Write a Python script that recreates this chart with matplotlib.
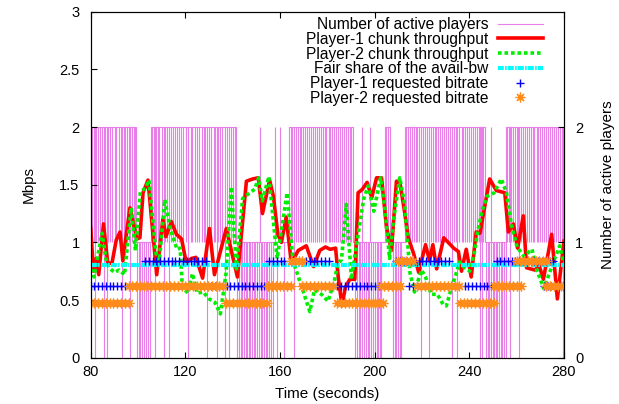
import numpy as np
import matplotlib
matplotlib.use("Agg")
import matplotlib.pyplot as plt

plt.rcParams['font.family'] = ['Liberation Sans', 'DejaVu Sans']

# ---- values ----
# number of active players: base level as a step series
player_t = [80.0, 99.3, 105.6, 141.6, 164.0, 190.8, 204.3, 206.4, 212.8, 246.6, 255.5, 280.0]
player_n = [2, 1, 2, 1, 2, 1, 2, 1, 2, 1, 2, 2]
# short drops from 2 players to 1
one_dips = [80.5, 81.2, 82.3, 83.0, 84.1, 84.8, 85.9, 87.4, 88.0, 89.1, 90.2, 90.8, 91.9, 92.6,
            94.0, 94.7, 95.5, 96.2, 97.5, 98.1, 98.8,
            106.0, 106.8, 107.5, 108.3, 109.0, 110.2, 111.6, 112.4, 114.0, 114.8, 115.5, 116.6,
            117.3, 118.2, 119.0, 120.1, 121.0, 122.3, 123.0, 124.2, 125.1, 125.8, 126.9, 127.7,
            128.5, 130.2, 131.0, 131.9, 132.6, 134.0, 134.8, 135.6, 137.5, 139.2, 140.0, 140.8,
            164.5, 165.2, 166.8, 167.5, 168.3, 169.0, 169.8, 170.6, 171.3, 172.4, 173.1, 174.0,
            174.8, 175.5, 176.4, 177.2, 178.0, 178.9, 179.6, 180.5, 181.2, 182.1, 183.0, 183.8,
            184.5, 185.4, 186.3, 187.0, 187.9, 188.6, 189.5, 190.2,
            204.8, 205.6,
            213.3, 214.0, 214.9, 215.6, 216.5, 217.3, 218.1, 218.8, 220.4, 221.2, 222.0, 223.6,
            224.5, 225.3, 226.0, 226.9, 227.7, 228.6, 229.3, 230.1, 231.0, 231.8, 233.6, 234.3,
            235.8, 236.7, 237.5, 238.3, 239.2, 240.0, 240.8, 241.7, 242.5, 243.3, 244.2, 245.0, 245.9,
            256.0, 256.6, 257.6, 258.4, 259.2, 260.0, 260.6, 261.9, 262.7, 263.5, 264.3, 265.2,
            266.0, 266.8, 267.5, 268.4, 269.2, 270.0, 270.9, 271.7, 272.5, 273.4, 274.2, 275.0,
            275.9, 276.7, 277.6, 278.4, 279.1]
# short drops to 0 players
zero_dips = [81.8, 85.6, 86.8, 93.4, 96.8,
             99.6, 100.3, 101.0, 101.8, 102.5, 103.3, 104.1, 104.9,
             107.0, 111.0, 113.1, 121.0, 129.3, 133.2, 136.8, 138.5,
             141.9, 142.6, 143.5, 144.1, 144.8, 145.6, 146.2, 146.9, 147.5, 148.3, 149.0, 149.6,
             150.4, 151.0, 151.8, 152.5, 153.1, 153.9, 154.6, 155.4, 156.2, 156.9, 158.6, 161.9,
             166.0,
             191.9, 192.6, 193.4, 194.0, 194.8, 195.5, 196.3, 197.0, 197.8, 198.5, 199.3, 200.0,
             200.8, 201.5, 202.3, 202.8,
             207.8, 208.5, 209.2, 209.9, 210.5, 211.1,
             219.5, 222.8, 232.8, 235.0, 244.5, 245.3,
             247.0, 247.7, 248.4, 249.1, 249.8, 250.5, 251.2, 251.9, 252.6, 253.3, 254.0, 254.7, 255.3,
             257.0, 261.2, 279.6]
# short rises from 1 player to 2
two_spikes = [151.5, 157.8, 159.9, 194.5, 198.0, 249.0]

p1_tput = [(80.0, 1.12), (81.2, 0.75), (82.3, 0.86), (83.4, 0.72), (85.4, 1.16), (87.2, 0.82),
           (89.0, 0.82), (90.8, 1.02), (92.4, 1.09), (93.6, 0.84), (95.2, 1.09), (96.6, 1.30),
           (99.5, 1.03), (100.8, 1.04), (102.1, 1.43), (104.2, 1.54), (107.9, 0.72), (110.5, 1.20),
           (111.8, 1.05), (114.1, 1.18), (116.2, 1.07), (118.4, 1.03), (120.4, 0.82), (122.5, 0.86),
           (124.5, 0.87), (127.3, 0.69), (130.2, 1.12), (132.3, 0.72), (137.3, 1.12), (142.0, 0.70),
           (145.8, 1.53), (148.5, 1.55), (150.8, 1.56), (152.6, 1.25), (155.6, 1.54), (157.2, 1.40),
           (159.1, 1.07), (160.6, 1.00), (162.6, 1.22), (164.8, 0.82), (167.7, 0.93), (171.1, 0.97),
           (174.2, 0.79), (176.8, 0.93), (179.2, 0.96), (181.2, 0.94), (183.5, 0.95), (184.6, 0.70),
           (186.2, 0.45), (187.6, 0.61), (189.5, 0.68), (191.6, 0.68), (193.0, 1.43), (194.8, 1.46),
           (196.8, 1.52), (198.8, 1.39), (200.8, 1.56), (202.9, 1.56), (205.0, 1.13), (207.1, 0.93),
           (209.2, 1.53), (210.6, 1.53), (212.6, 1.27), (214.2, 1.04), (216.5, 0.90), (218.6, 0.74),
           (221.5, 0.98), (223.2, 0.84), (224.6, 0.98), (226.2, 0.77), (229.2, 1.04), (233.4, 0.95),
           (235.4, 0.92), (236.7, 0.75), (238.7, 0.94), (240.8, 0.70), (242.9, 1.09), (244.5, 1.08),
           (248.6, 1.55), (251.4, 1.45), (255.0, 1.43), (256.5, 1.09), (258.6, 1.16), (260.4, 0.95),
           (262.8, 1.23), (264.2, 0.78), (267.7, 0.76), (269.5, 0.80), (271.3, 0.68), (274.8, 1.07),
           (277.2, 0.51), (280.0, 1.01)]

p2_tput = [(80.0, 0.77), (81.4, 0.70), (83.0, 0.88), (84.8, 1.08), (86.4, 0.86), (87.8, 0.78),
           (90.0, 0.74), (92.0, 0.76), (94.3, 0.72), (97.1, 1.30), (98.9, 0.93), (101.0, 1.44),
           (103.2, 1.47), (104.6, 1.54), (107.6, 0.90), (109.0, 0.84), (111.3, 1.37), (113.7, 1.11),
           (116.5, 0.94), (117.8, 0.95), (118.7, 0.62), (121.0, 0.56), (123.0, 0.73), (125.0, 0.56),
           (127.5, 0.57), (130.0, 0.51), (132.5, 0.48), (134.8, 0.38), (137.2, 0.73), (139.4, 1.48),
           (141.6, 0.77), (144.2, 1.38), (147.2, 1.43), (149.3, 1.46), (151.0, 1.56), (152.5, 1.36),
           (155.3, 1.57), (158.8, 0.86), (163.0, 1.43), (165.5, 0.84), (166.8, 0.76), (169.4, 0.60),
           (172.6, 0.40), (174.6, 0.59), (177.5, 0.55), (180.3, 0.49), (183.0, 0.67), (184.5, 0.82),
           (186.0, 0.85), (188.0, 1.33), (190.2, 0.68), (192.5, 1.00), (195.4, 1.38), (197.3, 1.49),
           (199.6, 1.27), (202.5, 1.56), (204.3, 1.30), (206.3, 0.86), (208.0, 1.20), (210.6, 1.56),
           (212.7, 1.33), (214.9, 0.74), (216.8, 0.57), (219.8, 0.76), (221.5, 0.70), (223.9, 0.55),
           (226.5, 0.55), (229.0, 0.46), (230.3, 0.45), (232.0, 0.57), (235.9, 0.83), (238.0, 0.78),
           (240.2, 0.75), (242.0, 0.90), (243.6, 1.10), (245.5, 1.28), (247.5, 1.40), (250.5, 1.43),
           (253.5, 1.55), (255.7, 1.43), (257.8, 1.15), (260.2, 0.96), (263.0, 0.88), (266.5, 0.94),
           (268.5, 0.76), (271.5, 0.60), (276.1, 0.86), (278.2, 0.97), (280.0, 0.81)]

fair_share_t = [80.0, 280.0]
fair_share = [0.80, 0.80]

# requested bitrate: (from, to, Mbps), one request per chunk
p1_req = [(80.0, 95.5, 0.62), (103.0, 129.5, 0.84), (131.0, 154.0, 0.62), (155.5, 163.0, 0.84),
          (171.0, 181.5, 0.84), (182.5, 202.0, 0.62), (209.0, 232.0, 0.84), (214.5, 218.0, 0.62),
          (238.0, 250.5, 0.62), (251.5, 276.5, 0.84), (271.5, 280.0, 0.62)]
p2_req = [(80.0, 96.5, 0.47), (96.0, 137.0, 0.62), (137.0, 154.8, 0.47), (155.0, 164.7, 0.62),
          (164.7, 169.5, 0.84), (169.5, 183.5, 0.62), (184.2, 203.5, 0.47), (202.5, 211.5, 0.62),
          (210.0, 216.5, 0.84), (218.0, 236.5, 0.62), (236.0, 251.4, 0.47), (250.5, 262.0, 0.62),
          (260.0, 273.5, 0.84), (272.5, 280.0, 0.62)]
chunk_step = 1.6

PINK = '#e97ee9'


def expand(segs, step):
    ts, vs = [], []
    for a, b, lvl in segs:
        tt = np.arange(a, b + 0.01, step)
        ts.extend(tt)
        vs.extend([lvl] * len(tt))
    return ts, vs


fig = plt.figure(figsize=(6.19, 4.04), dpi=100)
ax = fig.add_axes([0.1465, 0.1146, 0.7646, 0.8564])

# active players
base_idx = np.searchsorted(player_t, zero_dips, side='right') - 1
zero_tops = np.array(player_n)[base_idx]
ax.vlines(one_dips, 1, 2, color=PINK, lw=0.8, zorder=1)
ax.vlines(zero_dips, 0, zero_tops, color=PINK, lw=0.8, zorder=1)
ax.vlines(two_spikes, 1, 2, color=PINK, lw=0.8, zorder=1)
ax.step(player_t, player_n, where='post', color=PINK, lw=0.8, zorder=1,
        label='Number of active players')

t1, v1 = zip(*p1_tput)
t2, v2 = zip(*p2_tput)
ax.plot(t1, v1, color='red', lw=2.6, zorder=3, label='Player-1 chunk throughput')
ax.plot(t2, v2, color='#00ee00', lw=2.6, ls=(0, (1, 0.8)), zorder=4,
        label='Player-2 chunk throughput')
ax.plot(fair_share_t, fair_share, color='cyan', lw=3, ls=(0, (1.4, 0.3, 0.4, 0.3)), zorder=5,
        label='Fair share of the avail-bw')

r1t, r1v = expand(p1_req, chunk_step)
r2t, r2v = expand(p2_req, chunk_step)
ax.plot(r1t, r1v, ls='none', marker='+', ms=6, mew=1, color='blue', zorder=6,
        label='Player-1 requested bitrate')
ax.plot(r2t, r2v, ls='none', marker=(8, 2, 0), ms=7, mew=0.9, color='#ff8c1a', zorder=7,
        label='Player-2 requested bitrate')

ax.set_xlim(80, 280)
ax.set_ylim(0, 3)
ax.set_xticks([80, 120, 160, 200, 240, 280])
ax.set_yticks([0, 0.5, 1, 1.5, 2, 2.5, 3])
ax.set_yticklabels(['0', '0.5', '1', '1.5', '2', '2.5', '3'])
ax.tick_params(direction='in', length=4, width=0.8, top=True, right=True, labelsize=10.5)
ax.tick_params(axis='y', pad=8)
ax.tick_params(axis='x', pad=5)
ax.set_xlabel('Time (seconds)', fontsize=11, labelpad=6)
ax.set_ylabel('Mbps', fontsize=11, labelpad=17)

ax2 = ax.twinx()
ax2.set_ylim(0, 3)
ax2.set_yticks([0, 1, 2])
ax2.tick_params(direction='in', length=4, width=0.8, labelsize=10.5, pad=8)
ax2.set_ylabel('Number of active players', fontsize=11, labelpad=13)

leg = ax.legend(loc='upper right', bbox_to_anchor=(0.955, 0.984), frameon=False,
                markerfirst=False, fontsize=11.2, handlelength=2.9, handletextpad=0.6,
                labelspacing=-0.02, borderpad=0, borderaxespad=0, numpoints=1)

fig.savefig('out.png', dpi=100)
